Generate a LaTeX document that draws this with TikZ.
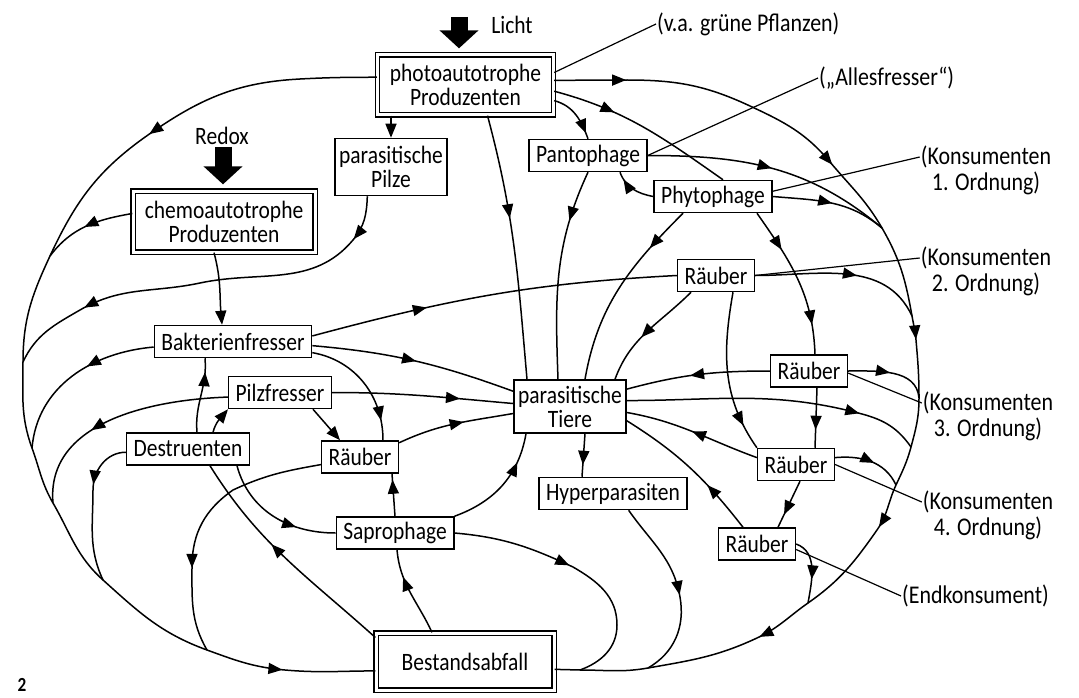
\documentclass[tikz,border=0pt]{standalone}
\usepackage{fontspec}
\setmainfont{Carlito}[FakeStretch=0.86]
\usepackage{tikz}
\usetikzlibrary{arrows.meta,decorations.markings}

\newcommand{\boxtextfont}{\fontsize{25}{24}\selectfont}
\newcommand{\notetextfont}{\fontsize{25.5}{26}\selectfont}

\begin{document}
\begin{tikzpicture}
  [x=1pt,y=-1pt,font=\boxtextfont,
   lineDecorate/.style={line width=1.5pt},
   flowDecorate/.style={lineDecorate,postaction={decorate,decoration={markings,
       mark=at position #1 with {\arrow{Triangle[length=14pt,width=11pt]}}}}},
   tipDecorate/.style={lineDecorate,-{Triangle[length=14pt,width=11pt]}},
   leaderDecorate/.style={line width=1.2pt},
   nodeDecorate/.style={draw,line width=1.5pt,inner xsep=7pt,inner ysep=3pt,
       minimum height=32pt,align=center},
   doubleDecorate/.style={nodeDecorate,line width=1.3pt,double,double distance=3pt},
   noteDecorate/.style={inner sep=1pt,align=center,font=\notetextfont},
   sourceDecorate/.style={line width=17pt,-{Triangle[length=18pt,width=38pt]}}]
  \useasboundingbox[fill=white] (0,0) rectangle (1079,698);

  %% boxes
  \foreach \nodename/\x/\y/\nodetext in {
    bakt/233/341.5/Bakterienfresser, pilzfr/280/392.5/Pilzfresser,
    destr/188/449/Destruenten, raeuL/360/457/Räuber,
    sapro/395/533/Saprophage, hyper/613/493.5/Hyperparasiten,
    pant/588/155.5/Pantophage, phyto/713/196.5/Phytophage,
    raeu2/716/275.5/Räuber, raeu3/809/371/Räuber,
    raeu4/796/464.5/Räuber, raeuE/757/544/Räuber}
  {
    \node (\nodename) at (\x,\y) [nodeDecorate] {\nodetext};
  }
  \node (pilze) at (391,167) [nodeDecorate,inner xsep=4pt,minimum height=57pt] {parasitische\\Pilze};
  \node (partiere) at (570,406.5) [nodeDecorate,inner xsep=4pt,minimum height=53pt] {parasitische\\Tiere};
  \node (photo) at (465.5,85) [doubleDecorate,minimum width=176pt,minimum height=60pt]
    {photoautotrophe\\Produzenten};
  \node (chemo) at (224,221.5) [doubleDecorate,minimum width=182pt,minimum height=61pt]
    {chemoautotrophe\\Produzenten};
  \node (bestand) at (465,661.5) [doubleDecorate,minimum width=178pt,minimum height=57pt]
    {Bestandsabfall};

  %% notes
  \node (licht) at (512,25) {Licht};
  \node (redox) at (222,136) {Redox};
  \node (vag) at (656,24) [noteDecorate,anchor=west] {(v.a. grüne Pflanzen)};
  \node (alles) at (818,78) [noteDecorate,anchor=west] {(„Allesfresser“)};
  \node (kons1) at (986,170) [noteDecorate] {(Konsumenten\\1. Ordnung)};
  \node (kons2) at (986,271) [noteDecorate] {(Konsumenten\\2. Ordnung)};
  \node (kons3) at (988,416) [noteDecorate] {(Konsumenten\\3. Ordnung)};
  \node (kons4) at (988,515) [noteDecorate] {(Konsumenten\\4. Ordnung)};
  \node (endk) at (901,596) [noteDecorate,anchor=west] {(Endkonsument)};
  \node (fignum) at (22,685) [inner sep=0pt,font=\bfseries\fontsize{20}{20}\selectfont] {2};

  %% junctions on the outer cycle
  \foreach \jname/\x/\y in {m1/50/256, m2/23/362, m3/32/448, m4/53/503, m5/103/580,
    m6/207/650, mR1/882/228, mR2/912/316, mR3/919/398, mR4/911/447, mR5/896/485,
    mR6/808/603, mH/648/668, mS/580/670}
    \coordinate (\jname) at (\x,\y);
  \foreach \jname/\lname in {k1/kons1, k2/kons2, k3/kons3, k4/kons4}
    \coordinate (\jname) at ([yshift=13pt]\lname.west);

  %% light and redox input
  \coordinate (lichtIn) at (459,17);
  \coordinate (redoxIn) at (223,147);
  \draw[sourceDecorate,shorten >=6pt] (lichtIn) -- (lichtIn |- photo.north);
  \draw[sourceDecorate,shorten >=6pt] (redoxIn) -- (redoxIn |- chemo.north);

  %% outer cycle
  \draw[flowDecorate=240pt,flowDecorate=-93pt] (photo.175) to[out=180,in=3] (300,79)
    to[out=183,in=35] (148,135) to[out=215,in=65] (m1) to[out=245,in=90] (m2)
    to[out=270,in=110] (m3) to[out=290,in=120] (m4) to[out=300,in=138] (m5)
    to[out=318,in=160] (m6) to[out=340,in=175] (285,670) to[out=355,in=180] (bestand.186);
  \draw[flowDecorate=72pt,flowDecorate=302pt,flowDecorate=500pt,flowDecorate=695pt,
    flowDecorate=859pt] (photo.3) -- (627,80) to[out=0,in=155] (750,106)
    to[out=-25,in=130] (830,162) to[out=-50,in=120] (mR1) to[out=-60,in=100] (mR2)
    to[out=-80,in=95] (916,340) to[out=-85,in=90] (mR3) to[out=-90,in=75] (mR4)
    to[out=-105,in=65] (mR5) to[out=-115,in=55] (877,530) to[out=-125,in=35] (mR6)
    to[out=-145,in=25] (757,638) to[out=-155,in=10] (mH) to[out=-170,in=0] (mS)
    -- (bestand.355);

  %% branches into the outer cycle
  \draw[flowDecorate=46pt,flowDecorate=330pt] (pilze.231) to[out=268,in=50] (353,240)
    to[out=230,in=12] (200,283) to[out=192,in=30] (80,310) to[out=210,in=65] (m2);
  \draw[flowDecorate=184pt] (raeuL.191) to[out=190,in=25] (233,490)
    to[out=215,in=90] (192,567) to[out=270,in=120] (m6);
  \draw[flowDecorate=50pt] (destr.183) to[out=180,in=90] (93,490) to[out=270,in=115] (m5);
  \draw[flowDecorate=120pt] (sapro.east) to[out=-5,in=155] (573,567)
    to[out=-30,in=90] (617,625) to[out=270,in=20] (mS);
  \draw[flowDecorate=100pt] (hyper.313) to[out=-55,in=100] (680,597) to[out=-80,in=30] (mH);
  \draw[flowDecorate=234pt] (partiere.6) to[out=0,in=165] (862,414) to[out=-15,in=125] (mR4);

  %% feeding links
  \foreach \startnode/\endnode/\o/\i/\p in {
    chemo.175/m1/190/53/50pt, bakt.184/m3/185/85/70pt, pilzfr.185/m4/182/95/142pt,
    bakt.4/raeu2.west/15/183/118pt, bakt.357/partiere.165/-5/160/105pt,
    pilzfr.east/partiere.177/0/175/128pt, raeuL.20/partiere.187/25/190/68pt,
    phyto.east/mR1/-5/140/60pt, pant.east/mR1/0/140/125pt, raeu2.east/mR2/0/115/102pt,
    raeu3.west/partiere.17/180/15/80pt, raeu3.east/mR3/0/95/42pt,
    raeu4.170/partiere.354/160/-10/70pt, raeu4.10/mR5/5/115/40pt,
    raeuE.east/mR6/-20/80/42pt, photo.350/pant.north/-15/110/-6pt}
    \draw[flowDecorate=\p] (\startnode) to[out=\o,in=\i] (\endnode);

  \draw[tipDecorate] (photo.south -| pilze.north) -- (pilze.north);
  \draw[tipDecorate] ([xshift=-10pt]chemo.south) to[out=-75,in=95] ([xshift=-11pt]bakt.north);
  \draw[flowDecorate=-14pt] ([xshift=9pt]destr.north) to[out=95,in=-85] ([xshift=-28pt]bakt.south);
  \draw[tipDecorate] ([xshift=25pt]destr.north) to[out=75,in=-130] ([xshift=-52pt]pilzfr.south);
  \draw[tipDecorate] ([xshift=33pt]pilzfr.south) -- ([xshift=-20pt]raeuL.north);
  \draw[flowDecorate=-20pt] (bakt.352) to[out=-10,in=90] ([xshift=23pt]raeuL.north);
  \draw[flowDecorate=-30pt] (sapro.north east) to[out=20,in=-100] ([xshift=-44pt]partiere.south);
  \draw[flowDecorate=-6pt] (sapro.north) -- ([xshift=32pt]raeuL.south);
  \draw[flowDecorate=-40pt] ([xshift=49pt]destr.south) to[out=-75,in=180] (sapro.west);
  \draw[flowDecorate=-100pt] (bestand.165) to[out=138,in=-58] ([xshift=22pt]destr.south);
  \draw[flowDecorate=-28pt] ([xshift=-33pt]bestand.north) to[out=115,in=-85] ([xshift=2pt]sapro.south);
  \draw[flowDecorate=-12pt] ([xshift=15pt]partiere.south) -- ([xshift=-31pt]hyper.north);
  \draw[flowDecorate=64pt] (photo.356) to[out=-15,in=145] ([xshift=10pt]phyto.north);
  \draw[flowDecorate=105pt] ([xshift=22pt]photo.south) to[out=-75,in=95] ([xshift=-43pt]partiere.north);
  \draw[flowDecorate=52pt] (pant.south) to[out=-115,in=92] ([xshift=-12pt]partiere.north);
  \draw[flowDecorate=-8pt] (phyto.west) to[out=170,in=-70] ([xshift=32pt]pant.south);
  \draw[flowDecorate=48pt] ([xshift=-30pt]phyto.south) to[out=-135,in=80] ([xshift=15pt]partiere.north);
  \draw[flowDecorate=44pt,flowDecorate=-30pt] ([xshift=44pt]phyto.south) to[out=-55,in=92] ([xshift=6pt]raeu3.north);
  \draw[flowDecorate=67pt] ([xshift=-25pt]raeu2.south) to[out=-135,in=70] ([xshift=45pt]partiere.north);
  \draw[flowDecorate=-26pt] ([xshift=17pt]raeu2.south) to[out=-100,in=125] (raeu4.north west);
  \draw[flowDecorate=-18pt] ([xshift=8pt]raeu3.south) -- ([xshift=19pt]raeu4.north);
  \draw[flowDecorate=55pt] ([xshift=-14pt]raeuE.north) to[out=128,in=-32] (partiere.346);
  \draw[flowDecorate=-14pt] ([xshift=4pt]raeu4.south) -- ([xshift=21pt]raeuE.north);

  %% leaders to the notes
  \foreach \startnode/\endnode in {photo.8/vag.west, pant.east/alles.west, phyto.5/k1,
    raeu2.east/k2, raeu3.357/k3, raeu4.east/k4, raeuE.352/endk.west}
    \draw[leaderDecorate] (\startnode) -- (\endnode);
\end{tikzpicture}
\end{document}
